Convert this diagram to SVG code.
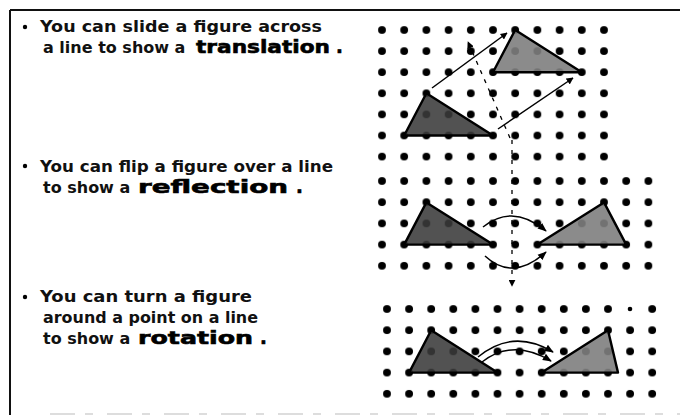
<svg xmlns="http://www.w3.org/2000/svg" width="680" height="415" viewBox="0 0 680 415">
<style>
.t{font-family:"DejaVu Sans","Liberation Sans",sans-serif;font-size:16px;font-weight:bold;fill:#111}
.k{font-family:"DejaVu Sans","Liberation Sans",sans-serif;font-size:18px;font-weight:bold;fill:#000;stroke:#000;stroke-width:0.6}
.d{fill:#000}
.tri{stroke:#000;stroke-width:2.4;stroke-linejoin:round}
.dk{fill:#3a3a3a;fill-opacity:0.88}
.lt{fill:#7e7e7e;fill-opacity:0.9}
.ar{fill:none;stroke:#000;stroke-width:1.5}
.dash{fill:none;stroke:#000;stroke-width:1.3;stroke-dasharray:4 6}
</style>
<defs>
<marker id="ah" viewBox="0 0 10 10" refX="9" refY="5" markerWidth="7" markerHeight="7" orient="auto" markerUnits="userSpaceOnUse">
<path d="M0,0 L10,5 L0,10 z" fill="#000"/>
</marker>
<marker id="ah2" viewBox="0 0 10 10" refX="9" refY="5" markerWidth="9" markerHeight="9" orient="auto" markerUnits="userSpaceOnUse">
<path d="M0,1 L10,5 L0,9 z" fill="#000"/>
</marker>
<pattern id="g1" x="382" y="30" width="22.2" height="21.1" patternUnits="userSpaceOnUse">
<circle cx="0" cy="0" r="3.9" class="d"/><circle cx="22.2" cy="0" r="3.9" class="d"/><circle cx="0" cy="21.1" r="3.9" class="d"/><circle cx="22.2" cy="21.1" r="3.9" class="d"/>
</pattern>
<pattern id="g2" x="382" y="181" width="22.2" height="21.2" patternUnits="userSpaceOnUse">
<circle cx="0" cy="0" r="3.9" class="d"/><circle cx="22.2" cy="0" r="3.9" class="d"/><circle cx="0" cy="21.2" r="3.9" class="d"/><circle cx="22.2" cy="21.2" r="3.9" class="d"/>
</pattern>
<pattern id="g3" x="387" y="309" width="22.1" height="21.2" patternUnits="userSpaceOnUse">
<circle cx="0" cy="0" r="3.9" class="d"/><circle cx="22.1" cy="0" r="3.9" class="d"/><circle cx="0" cy="21.2" r="3.9" class="d"/><circle cx="22.1" cy="21.2" r="3.9" class="d"/>
</pattern>
</defs>
<rect width="680" height="415" fill="#fff"/>
<g id="frame">
<line x1="10" y1="10" x2="680" y2="10" stroke="#111" stroke-width="2"/>
<line x1="10" y1="10" x2="10" y2="415" stroke="#111" stroke-width="2"/>
<line x1="50" y1="414" x2="680" y2="414" stroke="#bbb" stroke-width="1.2" stroke-dasharray="25 10 8 14"/>
</g>
<g id="text-translation">
<circle cx="25" cy="27" r="2.2" fill="#000"/>
<text class="t" x="40" y="32" textLength="282" lengthAdjust="spacingAndGlyphs">You can slide a figure across</text>
<text class="t" x="43" y="53">a line to show a</text>
<text class="k" x="196" y="53" textLength="134" lengthAdjust="spacingAndGlyphs">translation</text>
<text class="k" x="336" y="53">.</text>
</g>
<g id="text-reflection">
<circle cx="25" cy="166" r="2.2" fill="#000"/>
<text class="t" x="40" y="172" textLength="293" lengthAdjust="spacingAndGlyphs">You can flip a figure over a line</text>
<text class="t" x="43" y="193">to show a</text>
<text class="k" x="138" y="193" textLength="150" lengthAdjust="spacingAndGlyphs">reflection</text>
<text class="k" x="296" y="193">.</text>
</g>
<g id="text-rotation">
<circle cx="25" cy="297" r="2.2" fill="#000"/>
<text class="t" x="40" y="302" textLength="212" lengthAdjust="spacingAndGlyphs">You can turn a figure</text>
<text class="t" x="43" y="323" textLength="215" lengthAdjust="spacingAndGlyphs">around a point on a line</text>
<text class="t" x="43" y="344">to show a</text>
<text class="k" x="138" y="344" textLength="115" lengthAdjust="spacingAndGlyphs">rotation</text>
<text class="k" x="260" y="344">.</text>
</g>
<g id="grid-translation">
<rect x="377" y="25" width="232" height="137" fill="url(#g1)"/>
</g>
<g id="grid-reflection">
<rect x="377" y="176" width="277" height="95" fill="url(#g2)"/>
</g>
<g id="grid-rotation">
<rect x="382" y="304" width="275" height="95" fill="url(#g3)"/>
<rect x="624" y="303" width="12" height="12" fill="#fff"/>
<circle cx="630" cy="309" r="2.3" class="d"/>
</g>
<g id="figures">
<polygon class="tri dk" points="404.2,135.5 426.4,93.3 493,135.5"/>
<polygon class="tri lt" points="493,72.2 515.2,30 581.8,72.2"/>
<polygon class="tri dk" points="404.2,244.6 426.4,202.4 493,244.6"/>
<polygon class="tri lt" points="537.4,244.6 604,202.4 626.2,244.6"/>
<polygon class="tri dk" points="409.1,372.6 431.2,330.2 497.5,372.6"/>
<polygon class="tri lt" points="541.7,372.6 608,330.2 618,372.6"/>
</g>
<g id="connectors">
<line class="ar" x1="432" y1="88" x2="507" y2="33" marker-end="url(#ah)"/>
<line class="ar" x1="498" y1="129" x2="573" y2="78" marker-end="url(#ah)"/>
<path class="dash" d="M510,138 L468,42" marker-end="url(#ah)"/>
<path class="dash" d="M512,140 L512,286" marker-end="url(#ah)"/>
<path class="ar" d="M483,227 Q513,203 546,231" marker-end="url(#ah2)"/>
<path class="ar" d="M485,256 Q513,282 546,252" marker-end="url(#ah2)"/>
<path class="ar" d="M478,357 Q513,328 553,352" marker-end="url(#ah2)"/>
<path class="ar" d="M482,362 Q513,338 551,361" marker-end="url(#ah2)"/>
</g>
</svg>
